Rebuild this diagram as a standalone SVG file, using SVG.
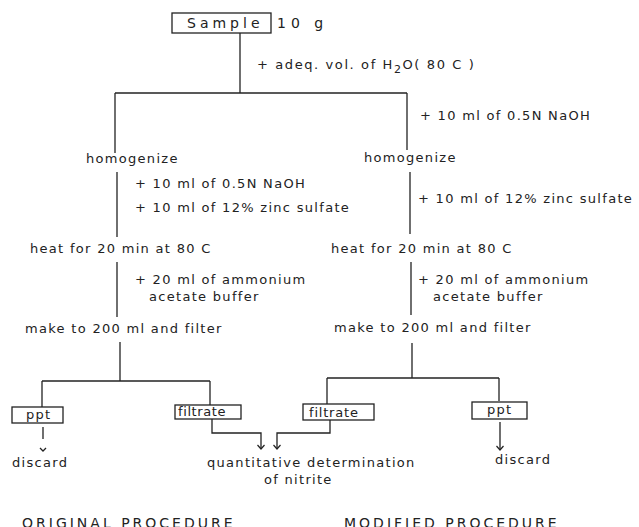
<svg xmlns="http://www.w3.org/2000/svg" width="639" height="527" viewBox="0 0 639 527">
<defs>
<style>
text{font-family:"DejaVu Sans","Liberation Sans",sans-serif;font-size:13px;fill:#222;letter-spacing:1.3px}
.l{stroke:#222;stroke-width:1.3;fill:none}
.b{stroke:#222;stroke-width:1.3;fill:#fff}
.cap{font-size:14px;letter-spacing:3px}
</style>
<marker id="ah" markerWidth="8" markerHeight="8" refX="7" refY="4" orient="auto" markerUnits="userSpaceOnUse">
<path d="M3,0.5 L7,4 L3,7.5" fill="none" stroke="#222" stroke-width="1.2"/>
</marker>
</defs>
<rect width="639" height="527" fill="#fff"/>
<g id="connectors">
<path class="l" d="M240,33 V93"/>
<path class="l" d="M115,93 H407"/>
<path class="l" d="M115,93 V153"/>
<path class="l" d="M407,93 V150"/>
<path class="l" d="M117,172 V237"/>
<path class="l" d="M117,262 V317"/>
<path class="l" d="M410,172 V234"/>
<path class="l" d="M411,262 V315"/>
<path class="l" d="M120,342 V381"/>
<path class="l" d="M42,381 H210"/>
<path class="l" d="M42,381 V407"/>
<path class="l" d="M210,381 V406"/>
<path class="l" d="M412,343 V378"/>
<path class="l" d="M327,378 H499"/>
<path class="l" d="M327,378 V404"/>
<path class="l" d="M499,378 V401"/>
<path class="l" d="M212,419 V433 H261 V449" marker-end="url(#ah)"/>
<path class="l" d="M330,420 V433 H277 V449" marker-end="url(#ah)"/>
<path class="l" d="M43,427 V439"/>
<path class="l" d="M40,448 L43,451 L46,448"/>
<path class="l" d="M500,422 V450" marker-end="url(#ah)"/>
</g>
<g id="sample">
<rect class="b" x="172" y="13" width="99" height="20"/>
<text x="187" y="28" style="font-size:14px;letter-spacing:4px">Sample</text>
<text x="277" y="28" style="font-size:14px;letter-spacing:5px">10 g</text>
</g>
<g id="water">
<text x="257" y="69" style="letter-spacing:1.6px">+ adeq. vol. of H<tspan dy="4" font-size="11">2</tspan><tspan dy="-4">O( 80 C )</tspan></text>
</g>
<g id="left-steps">
<text x="86" y="163">homogenize</text>
<text x="135" y="188">+ 10 ml of 0.5N NaOH</text>
<text x="135" y="212">+ 10 ml of 12% zinc sulfate</text>
<text x="30" y="253">heat for 20 min at 80 C</text>
<text x="135" y="284">+ 20 ml of ammonium</text>
<text x="149" y="301">acetate buffer</text>
<text x="25" y="333">make to 200 ml and filter</text>
</g>
<g id="right-steps">
<text x="420" y="120">+ 10 ml of 0.5N NaOH</text>
<text x="364" y="162">homogenize</text>
<text x="418" y="203">+ 10 ml of 12% zinc sulfate</text>
<text x="331" y="253">heat for 20 min at 80 C</text>
<text x="418" y="284">+ 20 ml of ammonium</text>
<text x="433" y="301">acetate buffer</text>
<text x="334" y="332">make to 200 ml and filter</text>
</g>
<g id="ppt-left">
<rect class="b" x="12" y="407" width="51" height="16"/>
<text x="26" y="419">ppt</text>
</g>
<g id="filtrate-left">
<rect class="b" x="175" y="405" width="66" height="14"/>
<text x="178" y="416" style="letter-spacing:0.6px">filtrate</text>
</g>
<g id="filtrate-right">
<rect class="b" x="303" y="404" width="71" height="16"/>
<text x="309" y="417" style="letter-spacing:0.8px">filtrate</text>
</g>
<g id="ppt-right">
<rect class="b" x="472" y="402" width="55" height="17"/>
<text x="487" y="414">ppt</text>
</g>
<g id="discard-left"><text x="12" y="467">discard</text></g>
<g id="quant">
<text x="207" y="467">quantitative determination</text>
<text x="264" y="484">of nitrite</text>
</g>
<g id="discard-right"><text x="495" y="464">discard</text></g>
<g id="labels">
<text class="cap" x="22" y="528">ORIGINAL  PROCEDURE</text>
<text class="cap" x="344" y="528">MODIFIED PROCEDURE</text>
</g>
</svg>
